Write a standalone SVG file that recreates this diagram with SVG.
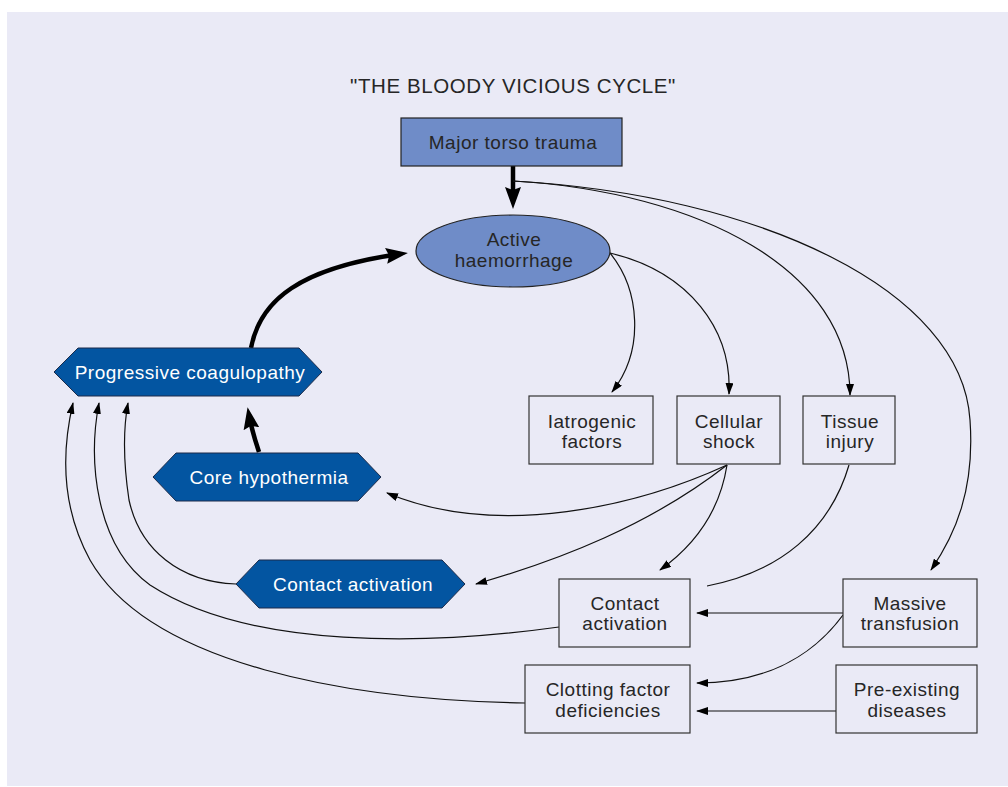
<svg xmlns="http://www.w3.org/2000/svg" width="1008" height="787" viewBox="0 0 1008 787">
<style>
text{font-family:"Liberation Sans",Arial,sans-serif;font-size:19px;letter-spacing:0.5px;fill:#262626;text-anchor:middle}
.w{fill:#fff}
.box{fill:#EAEAF6;stroke:#333;stroke-width:1.2}
.hex{fill:#0355A1;stroke:#1c2b4a;stroke-width:1}
.c{fill:none;stroke:#111;stroke-width:1.2}
.t{fill:none;stroke:#000;stroke-width:4.5}
</style>
<defs>
<marker id="a" viewBox="0 0 12 8" markerWidth="12" markerHeight="8" refX="11" refY="4" orient="auto" markerUnits="userSpaceOnUse"><path d="M0,0 L12,4 L0,8 z" fill="#000"/></marker>
<marker id="A" viewBox="0 0 22 16" markerWidth="22" markerHeight="16" refX="14" refY="8" orient="auto" markerUnits="userSpaceOnUse"><path d="M0,0 L22,8 L0,16 L3,8 z" fill="#000"/></marker>
</defs>
<rect x="0" y="0" width="1008" height="787" fill="#fff"/>
<rect x="7" y="12" width="1001" height="774" fill="#EAEAF6"/>
<text x="513" y="93" style="font-size:20.5px;letter-spacing:0.6px">"THE BLOODY VICIOUS CYCLE"</text>
<g id="connectors">
<path class="t" d="M513,166 L513,201" marker-end="url(#A)"/>
<path class="t" d="M251,348 C260,300 300,268 400,254" marker-end="url(#A)"/>
<path class="t" d="M259,452 C255,440 251,426 249,415" marker-end="url(#A)"/>
<path class="c" d="M513,181 C700,192 850,270 850,395" marker-end="url(#a)"/>
<path class="c" d="M513,181 C760,195 962,290 970,420 C975,490 955,535 931,570" marker-end="url(#a)"/>
<path class="c" d="M610,253 C640,290 645,350 612,392" marker-end="url(#a)"/>
<path class="c" d="M610,253 C690,272 732,330 729,394" marker-end="url(#a)"/>
<path class="c" d="M727,465 C640,505 500,540 387,493" marker-end="url(#a)"/>
<path class="c" d="M727,465 C650,525 560,560 476,584" marker-end="url(#a)"/>
<path class="c" d="M727,465 C720,510 695,545 660,570" marker-end="url(#a)"/>
<path class="c" d="M849,465 C830,530 780,572 707,586"/>
<path class="c" d="M843,613 L697,613" marker-end="url(#a)"/>
<path class="c" d="M843,615 C810,660 760,683 697,683" marker-end="url(#a)"/>
<path class="c" d="M836,711 L697,711" marker-end="url(#a)"/>
<path class="c" d="M559,627 C430,645 250,650 150,585 C95,545 88,460 99,403" marker-end="url(#a)"/>
<path class="c" d="M525,703 C350,700 150,665 90,560 C60,505 62,450 73,403" marker-end="url(#a)"/>
<path class="c" d="M236,584 C180,582 140,550 129,500 C123,460 123,430 128,403" marker-end="url(#a)"/>
</g>
<g id="major-torso-trauma">
<rect x="401" y="118" width="221" height="48" fill="#6F8CC8" stroke="#222" stroke-width="1.2"/>
<text x="513" y="149">Major torso trauma</text>
</g>
<g id="active-haemorrhage">
<ellipse cx="513" cy="251" rx="97" ry="36" fill="#6F8CC8" stroke="#222" stroke-width="1.2"/>
<text x="514" y="246">Active</text>
<text x="514" y="267">haemorrhage</text>
</g>
<g id="progressive-coagulopathy">
<polygon class="hex" points="54,372 78,348 299,348 322,372 299,396 78,396"/>
<text class="w" x="190" y="379">Progressive coagulopathy</text>
</g>
<g id="core-hypothermia">
<polygon class="hex" points="153,477 176,453 358,453 381,477 358,501 176,501"/>
<text class="w" x="269" y="484">Core hypothermia</text>
</g>
<g id="contact-activation-hex">
<polygon class="hex" points="236,584 259,560 442,560 465,584 442,608 259,608"/>
<text class="w" x="353" y="591">Contact activation</text>
</g>
<g id="iatrogenic-factors">
<rect class="box" x="529" y="396" width="124" height="68"/>
<text x="592" y="428">Iatrogenic</text>
<text x="592" y="448">factors</text>
</g>
<g id="cellular-shock">
<rect class="box" x="677" y="396" width="103" height="68"/>
<text x="729" y="428">Cellular</text>
<text x="729" y="448">shock</text>
</g>
<g id="tissue-injury">
<rect class="box" x="803" y="396" width="92" height="68"/>
<text x="850" y="428">Tissue</text>
<text x="850" y="448">injury</text>
</g>
<g id="contact-activation-box">
<rect class="box" x="559" y="579" width="131" height="68"/>
<text x="625" y="610">Contact</text>
<text x="625" y="630">activation</text>
</g>
<g id="massive-transfusion">
<rect class="box" x="843" y="579" width="134" height="68"/>
<text x="910" y="610">Massive</text>
<text x="910" y="630">transfusion</text>
</g>
<g id="clotting-factor-deficiencies">
<rect class="box" x="525" y="665" width="165" height="68"/>
<text x="608" y="696">Clotting factor</text>
<text x="608" y="717">deficiencies</text>
</g>
<g id="pre-existing-diseases">
<rect class="box" x="836" y="665" width="141" height="68"/>
<text x="907" y="696">Pre-existing</text>
<text x="907" y="717">diseases</text>
</g>
</svg>
